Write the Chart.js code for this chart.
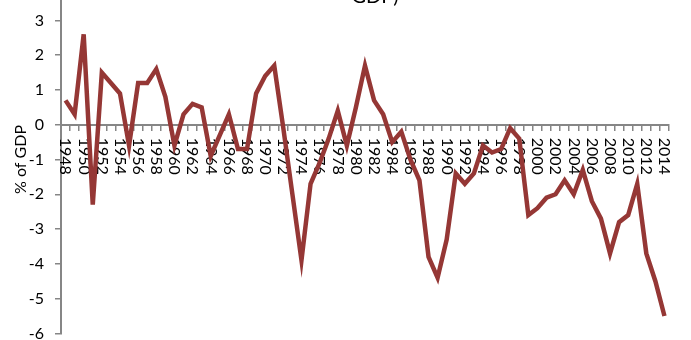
<!DOCTYPE html>
<html>
<head>
<meta charset="utf-8">
<script src="https://cdn.jsdelivr.net/npm/chart.js@4/dist/chart.umd.min.js"></script>
<style>
  html, body { margin: 0; padding: 0; background: #fff; overflow: hidden; }
  #wrap { position: absolute; left: 0; top: -35px; width: 691px; height: 389px; }
</style>
</head>
<body>
<div id="wrap"><canvas id="c"></canvas></div>
<script>
// Budget balance by fiscal year, percent of GDP
const years = ['1948','1949','1950','1951','1952','1953','1954','1955','1956','1957',
  '1958','1959','1960','1961','1962','1963','1964','1965','1966','1967',
  '1968','1969','1970','1971','1972','1973','1974','1975','1976','1977',
  '1978','1979','1980','1981','1982','1983','1984','1985','1986','1987',
  '1988','1989','1990','1991','1992','1993','1994','1995','1996','1997',
  '1998','1999','2000','2001','2002','2003','2004','2005','2006','2007',
  '2008','2009','2010','2011','2012','2013','2014'];

const balance = [0.7, 0.3, 2.6, -2.3, 1.5, 1.2, 0.9, -0.6, 1.2, 1.2,
  1.6, 0.8, -0.6, 0.3, 0.6, 0.5, -0.9, -0.3, 0.3, -0.7,
  -0.7, 0.9, 1.4, 1.7, -0.1, -2.0, -3.9, -1.7, -1.1, -0.4,
  0.4, -0.6, 0.5, 1.7, 0.7, 0.3, -0.5, -0.2, -1.0, -1.6,
  -3.8, -4.4, -3.3, -1.4, -1.7, -1.4, -0.6, -0.8, -0.7, -0.1,
  -0.4, -2.6, -2.4, -2.1, -2.0, -1.6, -2.0, -1.3, -2.2, -2.7,
  -3.7, -2.8, -2.6, -1.7, -3.7, -4.5, -5.5];

const xTickLabels = ['1948','1950','1952','1954','1956','1958','1960','1962','1964','1966',
  '1968','1970','1972','1974','1976','1978','1980','1982','1984','1986',
  '1988','1990','1992','1994','1996','1998','2000','2002','2004','2006',
  '2008','2010','2012','2014'];

const yTickValues = [-6, -5, -4, -3, -2, -1, 0, 1, 2, 3];

const titleTail = 'GDP)';
const yTitle = '% of GDP';

const FONT = 'Lato, "Open Sans", sans-serif';
const AXIS_GREY = '#868686';

// Year labels hang below the zero line, rotated clockwise, under the line
const yearLabels = {
  id: 'yearLabels',
  beforeDatasetsDraw(chart) {
    const ctx = chart.ctx;
    const xs = chart.scales.x, ys = chart.scales.y;
    const y0 = ys.getPixelForValue(0) + 13;
    ctx.save();
    ctx.fillStyle = '#000';
    ctx.font = '16px ' + FONT;
    ctx.textAlign = 'left';
    ctx.textBaseline = 'middle';
    xTickLabels.forEach(lbl => {
      const x = xs.getPixelForValue(years.indexOf(lbl));
      ctx.save();
      ctx.translate(x, y0);
      ctx.rotate(Math.PI / 2);
      ctx.fillText(lbl, 0, 0);
      ctx.restore();
    });
    ctx.restore();
  }
};

// Last line of the chart heading
const heading = {
  id: 'heading',
  afterDraw(chart) {
    const ctx = chart.ctx;
    ctx.save();
    ctx.fillStyle = '#000';
    ctx.font = '20px ' + FONT;
    ctx.textAlign = 'center';
    ctx.textBaseline = 'alphabetic';
    ctx.fillText(titleTail, 375, 38);
    ctx.restore();
  }
};

new Chart(document.getElementById('c'), {
  type: 'line',
  data: {
    labels: years,
    datasets: [{
      data: balance,
      borderColor: '#953735',
      backgroundColor: '#953735',
      borderWidth: 4.5,
      pointRadius: 0,
      tension: 0,
      fill: false
    }]
  },
  options: {
    responsive: true,
    maintainAspectRatio: false,
    animation: false,
    layout: { padding: { left: 0, right: 22, top: 0, bottom: 6 } },
    plugins: {
      legend: { display: false },
      tooltip: { enabled: false },
      title: { display: false }
    },
    scales: {
      x: {
        type: 'category',
        offset: true,
        position: { y: 0 },
        grid: {
          offset: true,
          drawOnChartArea: false,
          drawTicks: true,
          tickLength: 5,
          color: AXIS_GREY,
          lineWidth: 1.5
        },
        border: { display: true, color: AXIS_GREY, width: 2 },
        ticks: { display: false }
      },
      y: {
        min: -6,
        max: 4,
        afterFit(scale) { scale.width = 61; },
        afterBuildTicks(scale) {
          scale.ticks = yTickValues.map(v => ({ value: v }));
        },
        ticks: {
          stepSize: 1,
          color: '#000',
          font: { family: FONT, size: 16 },
          padding: 11
        },
        grid: {
          drawOnChartArea: false,
          drawTicks: true,
          tickLength: 6,
          color: AXIS_GREY,
          lineWidth: 1.5
        },
        border: { display: true, color: AXIS_GREY, width: 2 },
        title: {
          display: true,
          text: yTitle,
          color: '#000',
          font: { family: FONT, size: 16 },
          padding: { top: 11, bottom: 0 }
        }
      }
    }
  },
  plugins: [yearLabels, heading]
});
</script>
</body>
</html>
